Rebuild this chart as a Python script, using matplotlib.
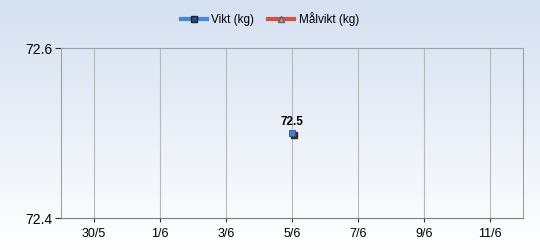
import matplotlib
matplotlib.use('Agg')
from matplotlib import pyplot as plt
from matplotlib.lines import Line2D
import matplotlib.dates as mdates
import numpy as np
import datetime as dt

# data
dates = [dt.date(2015, 6, 5)]
vikt = [72.5]
tick_dates = [dt.date(2015, 5, 30), dt.date(2015, 6, 1), dt.date(2015, 6, 3), dt.date(2015, 6, 5),
              dt.date(2015, 6, 7), dt.date(2015, 6, 9), dt.date(2015, 6, 11)]
tick_labels = ['30/5', '1/6', '3/6', '5/6', '7/6', '9/6', '11/6']
y_ticks = [72.4, 72.6]

plt.rcParams['font.family'] = ['Liberation Sans', 'DejaVu Sans']

fig = plt.figure(figsize=(5.4, 2.5), dpi=100)

# background gradient over whole figure
bg = fig.add_axes([0, 0, 1, 1], zorder=-10)
grad = np.linspace(0, 1, 256).reshape(-1, 1)
top = np.array([0.835, 0.878, 0.945])
bot = np.array([1.0, 1.0, 1.0])
img = top + (bot - top) * grad[..., None]
bg.imshow(img, aspect='auto', extent=[0, 1, 0, 1])
bg.axis('off')

ax = fig.add_axes([0.113, 0.128, 0.8555, 0.68])
ax.patch.set_alpha(0)

x = mdates.date2num(dates)
ax.plot(x + 0.06, np.array(vikt) - 0.002, 's', color='#303030', ms=5, zorder=3)
ax.plot(x, vikt, 's', color='#4a7fd0', mec='#2a4f90', mew=0.6, ms=5, zorder=4)
for xi, v in zip(x, vikt):
    ax.text(xi, v + 0.006, f'{v}', ha='center', va='bottom', fontsize=8.5, fontweight='bold')

ax.set_xlim(mdates.date2num(dt.date(2015, 5, 29)), mdates.date2num(dt.date(2015, 6, 12)))
ax.set_ylim(72.4, 72.6)
ax.set_xticks(mdates.date2num(tick_dates))
ax.set_xticklabels(tick_labels, fontsize=9)
ax.set_yticks(y_ticks)
ax.set_yticklabels([f'{t}' for t in y_ticks], fontsize=10)
ax.grid(axis='x', color='#b8b8b8', lw=0.8)
ax.tick_params(axis='x', length=3, color='#303030', pad=4)
ax.tick_params(axis='y', length=4, color='#303030', pad=2)
for s in ax.spines.values():
    s.set_color('#a0a0a0')
ax.spines['bottom'].set_color('#808080')

handles = [
    Line2D([0], [0], color='#4a86d8', lw=3, marker='s', ms=4, mfc='#2a4f90', mec='#202020'),
    Line2D([0], [0], color='#d8503c', lw=3, marker='^', ms=4, mfc='#c8a0a0', mec='#606060'),
]
fig.legend(handles, ['Vikt (kg)', 'Målvikt (kg)'], loc='upper center', bbox_to_anchor=(0.5, 0.995),
           ncol=2, frameon=False, fontsize=8.5, handlelength=2.2, columnspacing=1.2, handletextpad=0.4)

fig.savefig('out.png', dpi=100)
